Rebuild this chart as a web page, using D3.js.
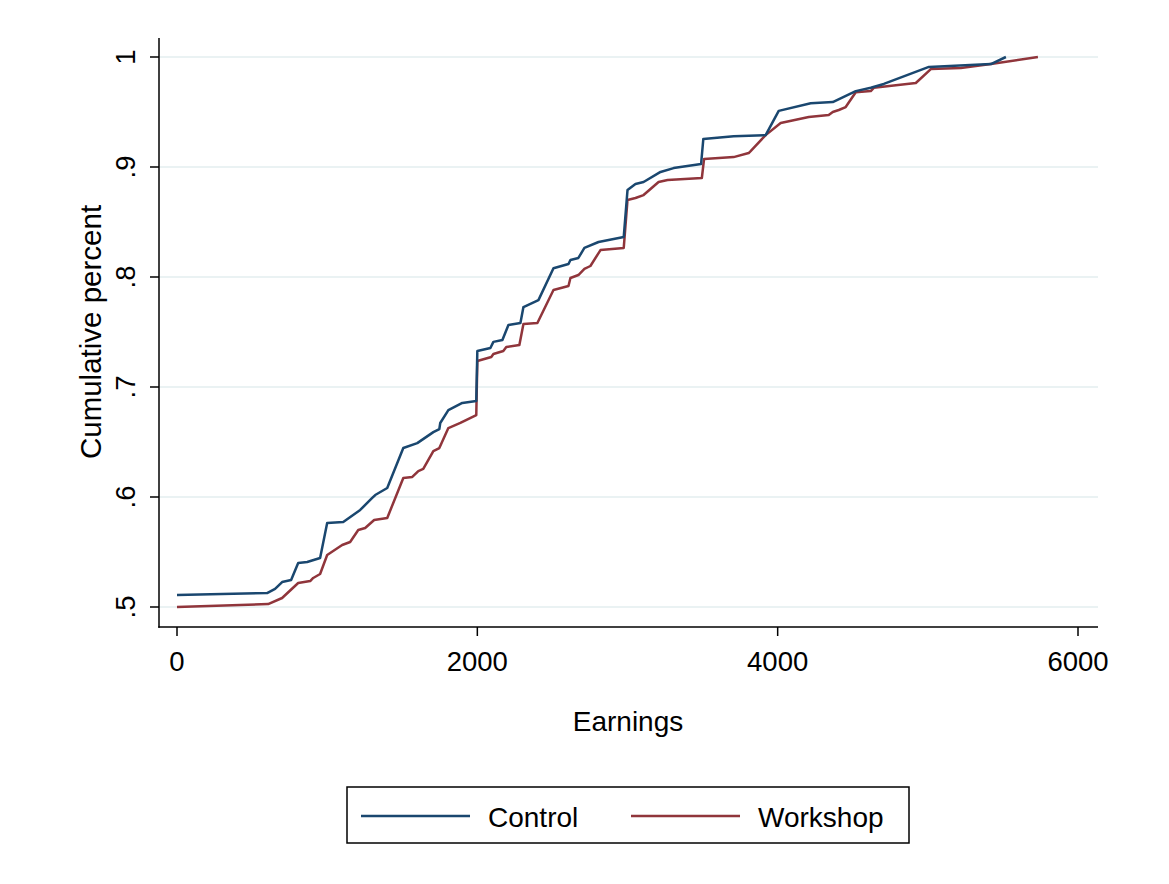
<!DOCTYPE html>
<html><head><meta charset="utf-8">
<script src="https://cdn.jsdelivr.net/npm/d3@7"></script>
<style>body{margin:0;background:#fff}svg{display:block}text{font-family:"Liberation Sans",Arial,Helvetica,sans-serif;fill:#000}</style>
</head><body><svg id="c" width="1169" height="884"></svg>
<script>
const controlEarnings=[0,600,653,700,760,807,867,953,1000,1107,1220,1300,1320,1400,1507,1600,1707,1747,1753,1807,1900,1993,2000,2087,2107,2167,2207,2287,2307,2407,2507,2607,2620,2673,2713,2807,2975,3000,3053,3107,3220,3307,3490,3505,3707,3920,4007,4220,4367,4520,4620,4707,5007,5420,5520];
const controlValues=[0.511,0.5127,0.5164,0.5227,0.5245,0.540,0.5409,0.5445,0.5764,0.5773,0.5882,0.5991,0.6018,0.6082,0.6445,0.649,0.659,0.6618,0.6673,0.679,0.6855,0.6873,0.7327,0.7355,0.741,0.7427,0.7564,0.7582,0.7727,0.779,0.808,0.8118,0.8155,0.8173,0.8264,0.8318,0.8364,0.879,0.8845,0.8864,0.8955,0.899,0.9027,0.9255,0.928,0.929,0.951,0.958,0.959,0.969,0.972,0.9755,0.991,0.9936,1.0];
const workshopEarnings=[0,607,700,807,887,907,953,1000,1100,1153,1207,1253,1313,1400,1507,1567,1607,1640,1707,1747,1807,1887,1993,2000,2093,2107,2173,2193,2280,2307,2400,2507,2607,2620,2673,2713,2753,2820,2975,3000,3053,3107,3207,3267,3495,3510,3707,3807,3820,3920,4020,4207,4340,4367,4407,4453,4520,4620,4640,4920,5020,5220,5420,5733];
const workshopValues=[0.5,0.5027,0.5082,0.5218,0.5236,0.5264,0.530,0.5473,0.5564,0.5591,0.570,0.5718,0.5791,0.5809,0.6173,0.6182,0.6236,0.6255,0.6418,0.6445,0.6627,0.6673,0.6745,0.7236,0.7273,0.730,0.7327,0.7364,0.7382,0.7573,0.7582,0.7882,0.7918,0.7991,0.8018,0.8073,0.810,0.8245,0.8264,0.870,0.8718,0.8745,0.8864,0.8882,0.890,0.9073,0.909,0.9127,0.9145,0.929,0.940,0.9455,0.9473,0.950,0.9518,0.9545,0.968,0.969,0.972,0.9764,0.989,0.990,0.9936,1.0];
const xTicks=[0,2000,4000,6000];
const yTicks=[0.5,0.6,0.7,0.8,0.9,1];
const yTickLabels=[".5",".6",".7",".8",".9","1"];
const seriesNames=["Control","Workshop"];
const seriesColors=["#1a476f","#90353b"];

const svg=d3.select("#c");
const x=d3.scaleLinear().domain([0,6000]).range([177,1078]);
const y=d3.scaleLinear().domain([0.5,1]).range([607,57]);
const L=159,R=1098,T=38,B=627;

// gridlines
svg.append("g").selectAll("line").data(yTicks).join("line")
  .attr("x1",L).attr("x2",R).attr("y1",d=>y(d)).attr("y2",d=>y(d))
  .attr("stroke","#eaf2f3").attr("stroke-width",2);

// series
const series=[
  {name:seriesNames[0],color:seriesColors[0],xs:controlEarnings,ys:controlValues},
  {name:seriesNames[1],color:seriesColors[1],xs:workshopEarnings,ys:workshopValues}
];
const line=d3.line().x(d=>x(d[0])).y(d=>y(d[1]));
series.slice().reverse().forEach(s=>{
  svg.append("path").datum(s.xs.map((v,i)=>[v,s.ys[i]]))
    .attr("d",line).attr("fill","none").attr("stroke",s.color)
    .attr("stroke-width",2.5).attr("stroke-linejoin","round");
});

// axes
const ax=svg.append("g");
ax.append("line").attr("x1",L).attr("x2",L).attr("y1",T).attr("y2",B+0.75).attr("stroke","#000").attr("stroke-width",1.5);
ax.append("line").attr("x1",L-0.75).attr("x2",R).attr("y1",B).attr("y2",B).attr("stroke","#000").attr("stroke-width",1.5);
ax.selectAll(".xt").data(xTicks).join("line").attr("class","xt")
  .attr("x1",d=>x(d)).attr("x2",d=>x(d)).attr("y1",B).attr("y2",B+9).attr("stroke","#000").attr("stroke-width",1.5);
ax.selectAll(".xl").data(xTicks).join("text").attr("class","xl")
  .attr("x",d=>x(d)).attr("y",671).attr("text-anchor","middle").attr("font-size",27.5).text(d=>d);
ax.selectAll(".yt").data(yTicks).join("line").attr("class","yt")
  .attr("x1",L-9).attr("x2",L).attr("y1",d=>y(d)).attr("y2",d=>y(d)).attr("stroke","#000").attr("stroke-width",1.5);
ax.selectAll(".yl").data(yTicks).join("text").attr("class","yl")
  .attr("transform",d=>`translate(135,${y(d)}) rotate(-90)`).attr("text-anchor","middle").attr("font-size",27.5)
  .text((d,i)=>yTickLabels[i]);

svg.append("text").attr("x",628).attr("y",731).attr("text-anchor","middle").attr("font-size",28).text("Earnings");
svg.append("text").attr("transform","translate(101,332) rotate(-90)").attr("text-anchor","middle").attr("font-size",29.5).text("Cumulative percent");

// legend
const lg=svg.append("g");
lg.append("rect").attr("x",347).attr("y",787).attr("width",562).attr("height",56).attr("fill","#fff").attr("stroke","#000").attr("stroke-width",1.5);
const lx=[361,631];
series.forEach((s,i)=>{
  lg.append("line").attr("x1",lx[i]).attr("x2",lx[i]+109).attr("y1",816).attr("y2",816).attr("stroke",s.color).attr("stroke-width",2.5);
  lg.append("text").attr("x",lx[i]+127).attr("y",827).attr("font-size",28).text(s.name);
});
</script></body></html>
